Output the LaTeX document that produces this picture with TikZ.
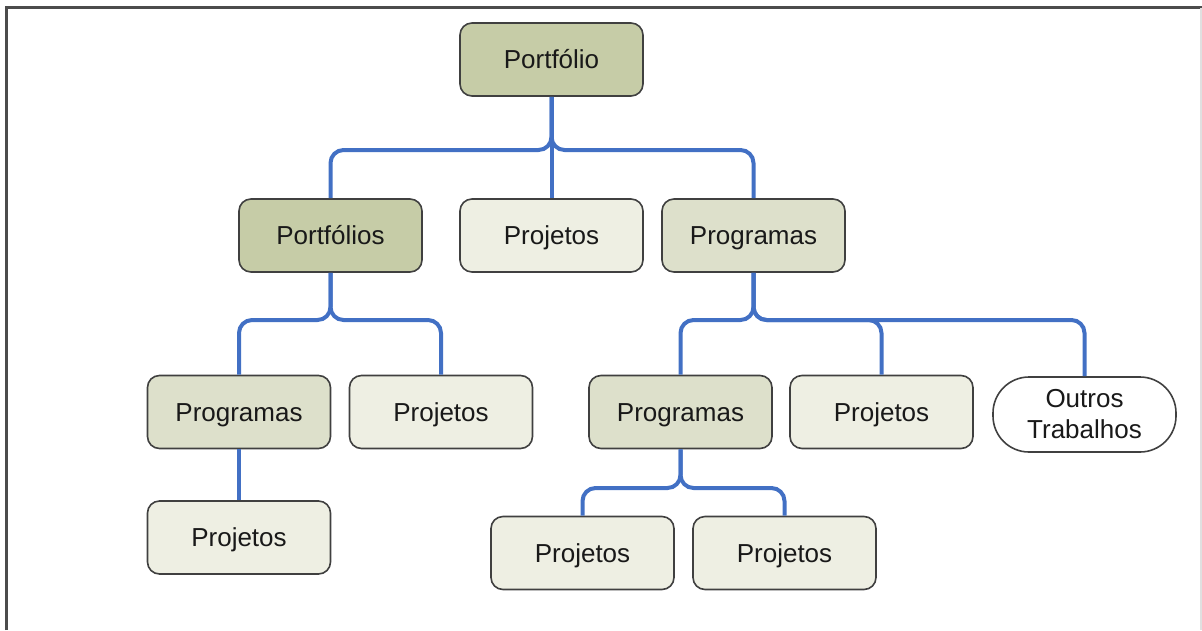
\documentclass[tikz,border=0pt]{standalone}
\usepackage{fontspec}
\setmainfont{Liberation Sans}
\begin{document}
\begin{tikzpicture}[x=1pt,y=-1pt,
  box/.style={draw=black!75, line width=1.6pt, rounded corners=12pt,
    minimum width=183pt, minimum height=73pt, inner sep=0pt,
    text height=19pt, text depth=0.5pt,
    font=\fontsize{26}{31}\selectfont, text=black!90, align=center},
  dark/.style={box, fill=olivedark},
  mid/.style={box, fill=olivemid},
  light/.style={box, fill=olivelight},
  pill/.style={box, fill=white, rounded corners=36pt, minimum height=75pt,
    text height=, text depth=},
  conn/.style={draw=linkblue, line width=4pt, rounded corners=13pt}
]
\definecolor{olivedark}{RGB}{198,204,167}
\definecolor{olivemid}{RGB}{221,224,203}
\definecolor{olivelight}{RGB}{238,239,227}
\definecolor{linkblue}{RGB}{66,112,196}
\useasboundingbox (0,0) rectangle (1202,630);
% frame
\draw[black!70, line width=2.5pt] (6.5,630) -- (6.5,7.5) -- (1202,7.5);
\draw[black!12, line width=1.5pt] (1201,8) -- (1201,630);

% nodes
\node[dark]  (p0)  at (551.5,59.5)  {Portfólio};
\node[dark]  (pf1) at (330.5,235.5) {Portfólios};
\node[light] (pj1) at (551.5,235.5) {Projetos};
\node[mid]   (pg1) at (753.5,235.5) {Programas};
\node[mid]   (pg2) at (239,412)     {Programas};
\node[light] (pj2) at (441,412)     {Projetos};
\node[mid]   (pg3) at (680.5,412)   {Programas};
\node[light] (pj3) at (881.5,412)   {Projetos};
\node[pill]  (ot)  at (1084.5,414.5) {Outros\\Trabalhos};
\node[light] (pj4) at (239,537.5)   {Projetos};
\node[light] (pj5) at (582.5,553)   {Projetos};
\node[light] (pj6) at (784.5,553)   {Projetos};

% junctions
\coordinate (j0) at (551.5,150);
\coordinate (j1) at (330.5,320);
\coordinate (j2) at (753.5,320);
\coordinate (j3) at (680.5,488);

% connectors
\draw[conn] (p0.south) -- (pj1.north);
\draw[conn] (pf1.north) |- (j0) -- (p0.south);
\draw[conn] (pg1.north) |- (j0) -- (p0.south);

\draw[conn] (pg2.north) |- (j1) -- (pf1.south);
\draw[conn] (pj2.north) |- (j1) -- (pf1.south);

\draw[conn] (pg3.north) |- (j2) -- (pg1.south);
\draw[conn] (pj3.north) |- (j2) -- (pg1.south);
\draw[conn] (ot.north)  |- (j2) -- (pg1.south);

\draw[conn] (pg2.south) -- (pj4.north);

\draw[conn] (pj5.north) |- (j3) -- (pg3.south);
\draw[conn] (pj6.north) |- (j3) -- (pg3.south);
\end{tikzpicture}
\end{document}
